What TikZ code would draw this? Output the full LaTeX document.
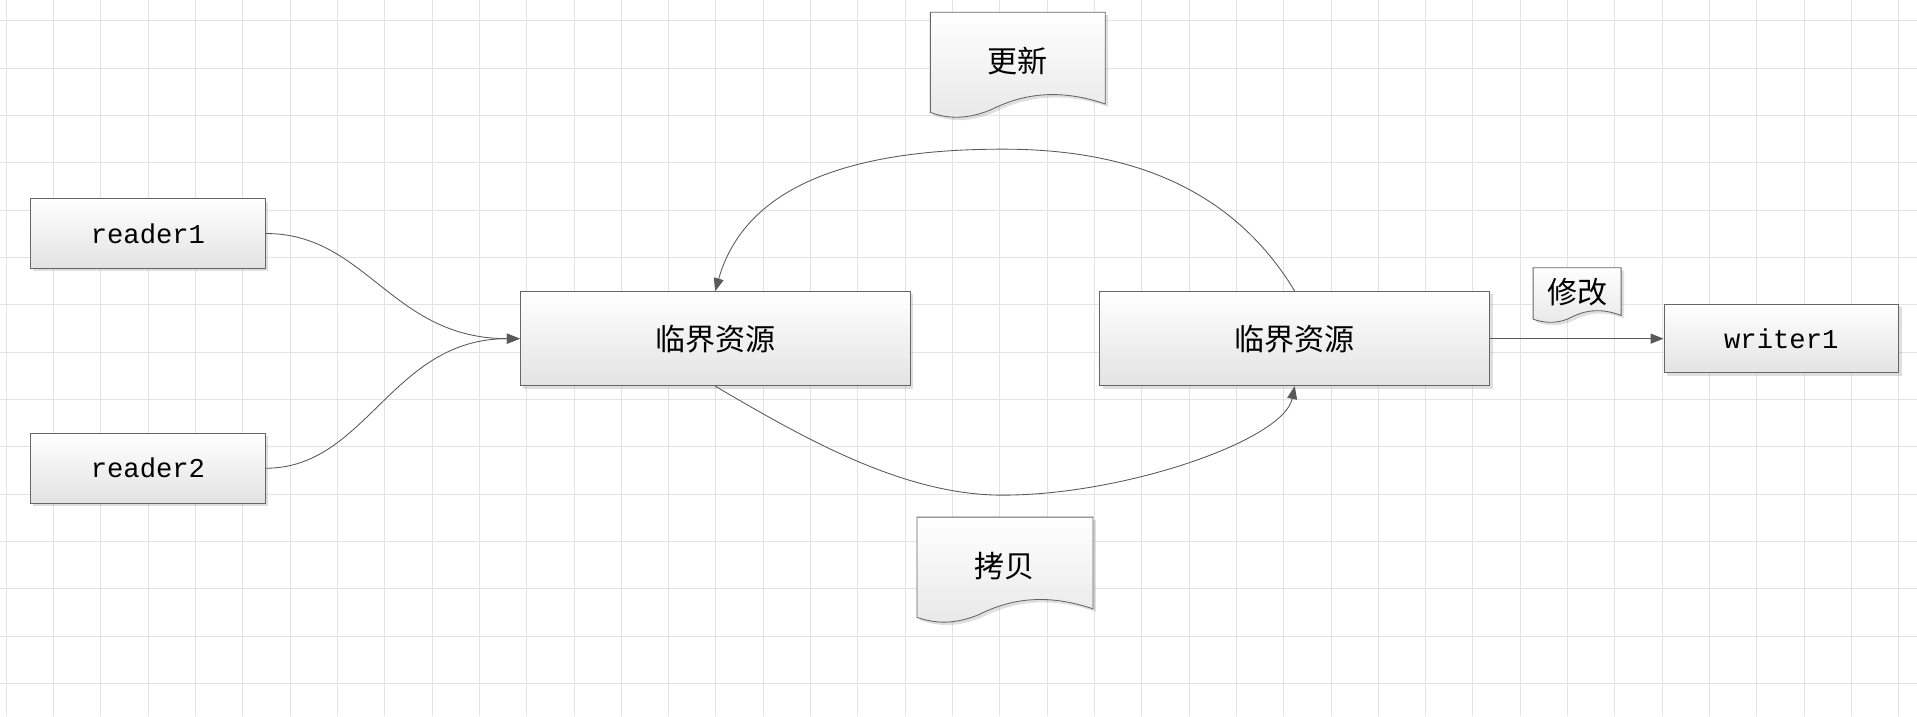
\documentclass[tikz,border=0pt]{standalone}
\usepackage{fontspec}
\newfontfamily\cjk{Noto Sans CJK SC}
\newfontfamily\mono{Liberation Mono}
\usetikzlibrary{arrows.meta,shadows}
\tikzset{
 box/.style={draw=gray!80!black,line width=0.6pt,top color=white,bottom color=gray!22,drop shadow={opacity=0.25,shadow xshift=2pt,shadow yshift=-2pt},inner sep=0pt},
 doc/.style={draw=gray!80!black,line width=0.6pt,top color=white,bottom color=gray!18,drop shadow={opacity=0.25,shadow xshift=2pt,shadow yshift=-2pt}},
 conn/.style={draw=gray!70!black,line width=0.6pt,-{Triangle[length=9pt,width=7pt]}},
 lbl/.style={font=\cjk\fontsize{21}{24}\selectfont},
 ml/.style={font=\mono\fontsize{19}{22}\selectfont}
}
\begin{document}
\begin{tikzpicture}[x=0.03cm,y=-0.03cm]
\useasboundingbox (0,0) rectangle (1568,586);
\fill[white] (0,0) rectangle (1568,586);
\foreach \i in {0,...,41} \draw[gray!22,line width=0.5pt] ({5+38.7*\i},0) -- ({5+38.7*\i},586);
\foreach \j in {0,...,15} \draw[gray!22,line width=0.5pt] (0,{17+38.7*\j}) -- (1568,{17+38.7*\j});
% boxes
\node[box,minimum width=192*0.03cm,minimum height=57*0.03cm,ml] (r1) at (121,191) {reader1};
\node[box,minimum width=192*0.03cm,minimum height=57*0.03cm,ml] (r2) at (121,383) {reader2};
\node[box,minimum width=319*0.03cm,minimum height=77*0.03cm,lbl] (c1) at (585,277) {临界资源};
\node[box,minimum width=319*0.03cm,minimum height=77*0.03cm,lbl] (c2) at (1059,277) {临界资源};
\node[box,minimum width=192*0.03cm,minimum height=56*0.03cm,ml] (w1) at (1457,277) {writer1};
% document shapes
\path[doc] (761,10) -- (904,10) -- (904,85) .. controls (860,70) and (830,80) .. (810,90) .. controls (790,98) and (775,97) .. (761,92) -- cycle;
\node[lbl] (gx) at (832,50) {更新};
\path[doc] (750,423) -- (894,423) -- (894,498) .. controls (850,483) and (820,493) .. (800,503) .. controls (780,511) and (765,510) .. (750,505) -- cycle;
\node[lbl] (kb) at (822,463) {拷贝};
\path[doc] (1254,219) -- (1326,219) -- (1326,258) .. controls (1305,250) and (1292,256) .. (1282,261) .. controls (1272,265) and (1262,264) .. (1254,261) -- cycle;
\node[lbl] (xg) at (1290,239) {修改};
% connectors
\draw[conn] (r1.east) .. controls (300,191) and (320,277) .. (c1.west);
\draw[conn] (r2.east) .. controls (300,383) and (320,277) .. (c1.west);
\draw[conn] (c2.north) .. controls (1000,140) and (900,122) .. (820,122) .. controls (700,122) and (610,150) .. (c1.north);
\draw[conn] (c1.south) .. controls (660,360) and (740,405) .. (820,405) .. controls (920,405) and (1050,360) .. (c2.south);
\draw[conn] (c2.east) -- (w1.west);
\end{tikzpicture}
\end{document}
